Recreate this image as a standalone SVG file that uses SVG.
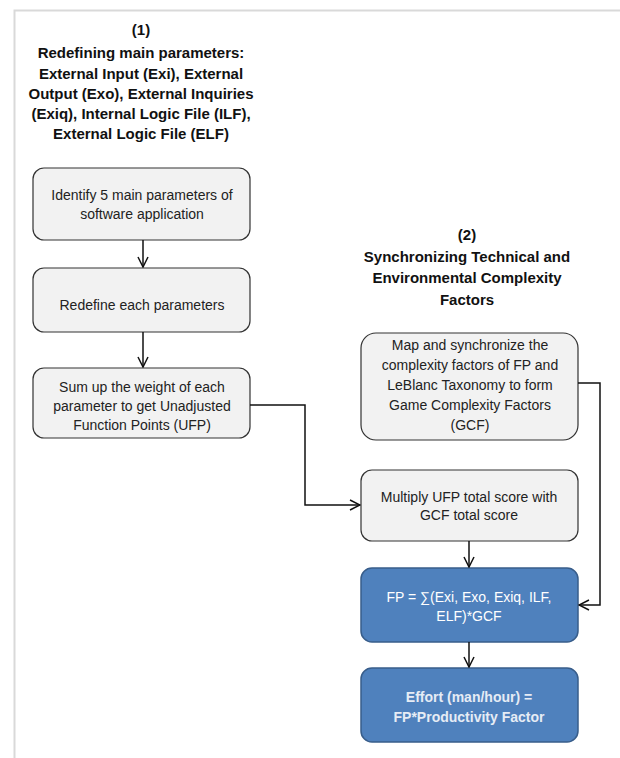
<svg xmlns="http://www.w3.org/2000/svg" width="620" height="758" viewBox="0 0 620 758">
<defs>
<style>
.title{font-family:"Liberation Sans",Arial,sans-serif;font-size:15px;font-weight:bold;fill:#111;text-anchor:middle}
.t{font-family:"Liberation Sans",Arial,sans-serif;font-size:14px;fill:#222;text-anchor:middle}
.tw{font-family:"Liberation Sans",Arial,sans-serif;font-size:14px;fill:#fff;text-anchor:middle}
.tb{font-family:"Liberation Sans",Arial,sans-serif;font-size:14px;font-weight:bold;fill:#e6ecf5;text-anchor:middle}
.g{fill:#f2f2f2;stroke:#333;stroke-width:1.2}
.b{fill:#4f81bd;stroke:#385d8a;stroke-width:1.5}
.c{fill:none;stroke:#111;stroke-width:1.5}
</style>
<marker id="ah" viewBox="0 0 12 12" refX="11" refY="6" markerWidth="12" markerHeight="12" markerUnits="userSpaceOnUse" orient="auto">
<path d="M1,1 L11,6 L1,11" fill="none" stroke="#111" stroke-width="1.5"/>
</marker>
</defs>
<rect width="620" height="758" fill="#fff"/>
<path d="M14.5,758 V10.5 H620" fill="none" stroke="#d9d9d9" stroke-width="2"/>

<g id="title1">
<text class="title" x="141" y="35">(1)</text>
<text class="title" x="141" y="58">Redefining main parameters:</text>
<text class="title" x="141" y="79">External Input (Exi), External</text>
<text class="title" x="141" y="99">Output (Exo), External Inquiries</text>
<text class="title" x="141" y="119">(Exiq), Internal Logic File (ILF),</text>
<text class="title" x="141" y="139">External Logic File (ELF)</text>
</g>

<g id="title2">
<text class="title" x="467" y="240">(2)</text>
<text class="title" x="467" y="262">Synchronizing Technical and</text>
<text class="title" x="467" y="283">Environmental Complexity</text>
<text class="title" x="467" y="305">Factors</text>
</g>

<g id="n1">
<rect class="g" x="33" y="168" width="217" height="72" rx="11"/>
<text class="t" x="142" y="200">Identify 5 main parameters of</text>
<text class="t" x="142" y="219">software application</text>
</g>
<g id="n2">
<rect class="g" x="33" y="268" width="217" height="64" rx="11"/>
<text class="t" x="142" y="310">Redefine each parameters</text>
</g>
<g id="n3">
<rect class="g" x="33" y="368" width="217" height="70" rx="11"/>
<text class="t" x="142" y="392">Sum up the weight of each</text>
<text class="t" x="142" y="411">parameter to get Unadjusted</text>
<text class="t" x="142" y="430">Function Points (UFP)</text>
</g>
<g id="n4">
<rect class="g" x="361" y="333" width="217" height="107" rx="15"/>
<text class="t" x="470" y="350">Map and synchronize the</text>
<text class="t" x="470" y="370">complexity factors of FP and</text>
<text class="t" x="470" y="390">LeBlanc Taxonomy to form</text>
<text class="t" x="470" y="410">Game Complexity Factors</text>
<text class="t" x="470" y="430">(GCF)</text>
</g>
<g id="n5">
<rect class="g" x="361" y="470" width="217" height="71" rx="11"/>
<text class="t" x="469" y="502">Multiply UFP total score with</text>
<text class="t" x="469" y="520">GCF total score</text>
</g>
<g id="n6">
<rect class="b" x="361" y="568" width="217" height="74" rx="11"/>
<text class="tw" x="469" y="602">FP = ∑(Exi, Exo, Exiq, ILF,</text>
<text class="tw" x="469" y="621">ELF)*GCF</text>
</g>
<g id="n7">
<rect class="b" x="361" y="668" width="217" height="74" rx="11"/>
<text class="tb" x="469" y="702">Effort (man/hour) =</text>
<text class="tb" x="469" y="722">FP*Productivity Factor</text>
</g>

<g id="connectors">
<path class="c" d="M143,240 V267" marker-end="url(#ah)"/>
<path class="c" d="M143,332 V367" marker-end="url(#ah)"/>
<path class="c" d="M250,405 H305 V505 H360" marker-end="url(#ah)"/>
<path class="c" d="M578,383 H600 V605 H579" marker-end="url(#ah)"/>
<path class="c" d="M469,541 V567" marker-end="url(#ah)"/>
<path class="c" d="M469,642 V667" marker-end="url(#ah)"/>
</g>
</svg>
